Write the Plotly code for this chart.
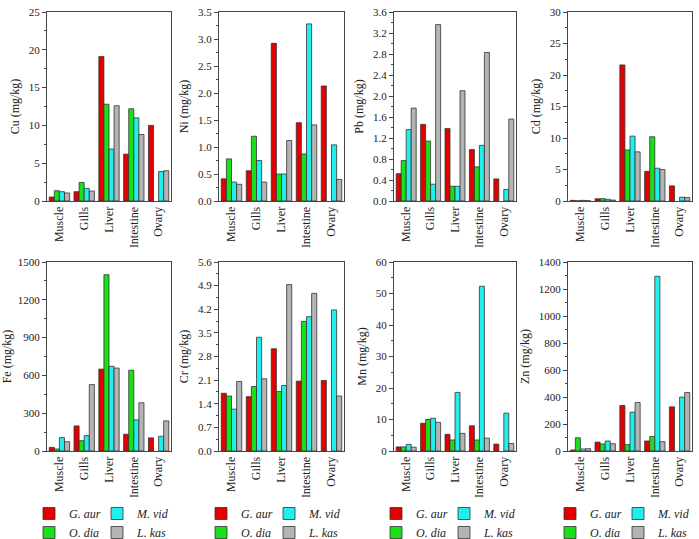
import plotly.graph_objects as go

# tissues and species
categories = ["Muscle", "Gills", "Liver", "Intestine", "Ovary"]
species = ["G. aur", "O. dia", "M. vid", "L. kas"]
colors = ["#e30000", "#19e019", "#22eeee", "#b4b4b4"]

# metal concentrations (mg/kg), one list per species in the order above
cu = [[0.53, 1.23, 19.1, 6.2, 10.0],
      [1.36, 2.46, 12.8, 12.2, None],
      [1.23, 1.67, 6.87, 11.0, 3.9],
      [1.06, 1.32, 12.6, 8.8, 4.0]]
ni = [[0.41, 0.56, 2.92, 1.45, 2.13],
      [0.78, 1.20, 0.50, 0.87, None],
      [0.35, 0.75, 0.50, 3.28, 1.04],
      [0.31, 0.35, 1.12, 1.41, 0.40]]
pb = [[0.52, 1.46, 1.38, 0.98, 0.42],
      [0.77, 1.14, 0.28, 0.65, None],
      [1.36, 0.32, 0.28, 1.06, 0.22],
      [1.77, 3.36, 2.10, 2.83, 1.56]]
cd = [[0.10, 0.35, 21.6, 4.7, 2.4],
      [0.03, 0.37, 8.1, 10.2, None],
      [0.10, 0.27, 10.3, 5.2, 0.6],
      [0.05, 0.15, 7.8, 5.0, 0.55]]
fe = [[29, 199, 650, 133, 104],
      [16, 82, 1399, 641, None],
      [106, 122, 672, 247, 117],
      [74, 527, 658, 383, 239]]
cr = [[1.71, 1.61, 3.03, 2.07, 2.09],
      [1.63, 1.91, 1.76, 3.84, None],
      [1.24, 3.37, 1.94, 3.98, 4.18],
      [2.06, 2.14, 4.93, 4.67, 1.63]]
mn = [[1.3, 8.8, 5.3, 8.0, 2.2],
      [1.3, 10.0, 3.5, 3.5, None],
      [2.1, 10.4, 18.6, 52.3, 12.0],
      [1.2, 9.1, 5.6, 4.1, 2.4]]
zn = [[7, 66, 337, 74, 327],
      [98, 52, 47, 108, None],
      [15, 74, 288, 1294, 399],
      [17, 54, 359, 69, 433]]

# (label, data, axis max, tick step, tick format)
panels = [
    ("Cu", cu, 25, 5, ""), ("Ni", ni, 3.5, 0.5, ".1f"),
    ("Pb", pb, 3.6, 0.4, ".1f"), ("Cd", cd, 30, 5, ""),
    ("Fe", fe, 1500, 300, ""), ("Cr", cr, 5.6, 0.7, ".1f"),
    ("Mn", mn, 60, 10, ""), ("Zn", zn, 1400, 200, ""),
]

W, H = 699, 539
# panel edges in pixels
col_px = [(47, 171), (219, 344), (394, 516), (568, 692)]
row_px = [(12, 201), (262, 451)]
font = "Liberation Serif, DejaVu Serif, Times New Roman, serif"


def fx(px):
    return px / W


def fy(py):
    return 1 - py / H


fig = go.Figure()
for i, (metal, data, ymax, step, fmt) in enumerate(panels):
    r, c = divmod(i, 4)
    n = i + 1
    sfx = "" if n == 1 else str(n)
    for k, sp in enumerate(species):
        leg_idx = 2 * c + 1 + (1 if k >= 2 else 0)
        fig.add_trace(go.Bar(
            x=categories, y=data[k], name="<i>%s</i>" % sp,
            marker=dict(color=colors[k], line=dict(color="#333333", width=0.8)),
            xaxis="x" + sfx, yaxis="y" + sfx, offsetgroup=str(k),
            showlegend=(r == 1),
            legend="legend" if leg_idx == 1 else "legend%d" % leg_idx,
        ))
    x0, x1 = col_px[c]
    y0, y1 = row_px[r]
    fig.update_layout(**{
        "xaxis" + sfx: dict(
            domain=[fx(x0), fx(x1)], anchor="y" + sfx, automargin=False,
            tickangle=-90, showline=True, mirror=True, linecolor="#444",
            linewidth=1, ticks="", tickfont=dict(size=12, family=font),
            ticklabeloverflow="allow",
        ),
        "yaxis" + sfx: dict(
            domain=[fy(y1), fy(y0)], anchor="x" + sfx, automargin=False,
            range=[0, ymax], dtick=step, tickformat=fmt,
            showline=True, mirror=True, linecolor="#444", linewidth=1,
            ticks="outside", ticklen=4, tickcolor="#444", showgrid=False,
            zeroline=False, tickfont=dict(size=11, family=font),
            ticklabeloverflow="allow",
            minor=dict(ticks="outside", ticklen=2, dtick=step / 2, tickcolor="#444"),
            title=dict(text="%s (mg/kg)" % metal, font=dict(size=12, family=font), standoff=6),
        ),
    })

# two small legends under each column of panels
for c, (x0, x1) in enumerate(col_px):
    for j, off in enumerate([0, 68]):
        idx = 2 * c + 1 + j
        key = "legend" if idx == 1 else "legend%d" % idx
        fig.update_layout(**{key: dict(
            x=fx(x0 - 18 + off), y=fy(499), xanchor="left", yanchor="top",
            bgcolor="rgba(0,0,0,0)", font=dict(size=12, family=font),
            itemwidth=30, tracegroupgap=0, traceorder="normal",
        )})

fig.update_layout(
    width=W, height=H, margin=dict(l=0, r=0, t=0, b=0, autoexpand=False),
    paper_bgcolor="white", plot_bgcolor="white",
    font=dict(family=font, color="#222"),
    barmode="group", bargap=0.18, bargroupgap=0,
)
# drop the page's default body margin so the figure fills the window
fig.write_html("out.html", config={"displayModeBar": False},
               post_script="document.body.style.margin = '0';")
